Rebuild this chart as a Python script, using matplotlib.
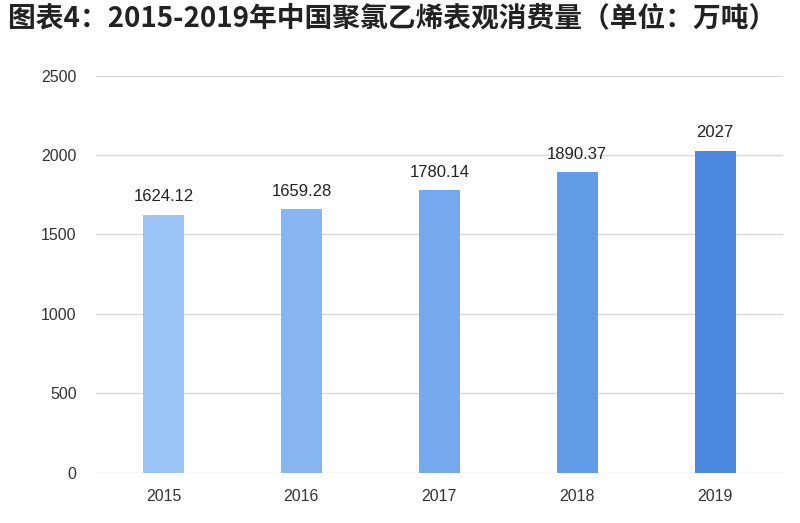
import matplotlib
matplotlib.use("Agg")
import matplotlib.pyplot as plt

plt.rcParams['font.family'] = ['Noto Sans CJK SC', 'DejaVu Sans']

years = ['2015', '2016', '2017', '2018', '2019']
values = [1624.12, 1659.28, 1780.14, 1890.37, 2027]
labels = ['1624.12', '1659.28', '1780.14', '1890.37', '2027']
colors = ['#9cc3f5', '#87b5f1', '#74a9ee', '#629ce8', '#4c8ae0']
yticks = [0, 500, 1000, 1500, 2000, 2500]

latin = ['Liberation Sans', 'DejaVu Sans']

fig = plt.figure(figsize=(8, 5.23), dpi=100)
ax = fig.add_axes([0.12, 0.0962, 0.859, 0.7591])

x = range(len(years))
ax.bar(x, values, width=0.30, color=colors, zorder=3)
for xi, v, lab in zip(x, values, labels):
    ax.text(xi, v + 65, lab, ha='center', va='bottom', fontsize=12, color='#222222',
            family=latin)

ax.set_ylim(0, 2500)
ax.set_xlim(-0.489, 4.493)
ax.set_yticks(yticks)
ax.set_yticklabels([str(t) for t in yticks], fontsize=11.5, color='#333333', family=latin)
ax.set_xticks(list(x))
ax.set_xticklabels(years, fontsize=11.5, color='#333333', family=latin)
ax.grid(axis='y', color='#d9d9d9', linewidth=1, zorder=0)
for s in ax.spines.values():
    s.set_visible(False)
ax.tick_params(axis='x', length=0, pad=12)
ax.tick_params(axis='y', length=0, pad=14)

fig.text(0.01, 0.965, '图表4：2015-2019年中国聚氯乙烯表观消费量（单位：万吨）', fontsize=20,
         fontweight='bold', color='#222222', ha='left', va='center')

fig.savefig('out.png', dpi=100)
